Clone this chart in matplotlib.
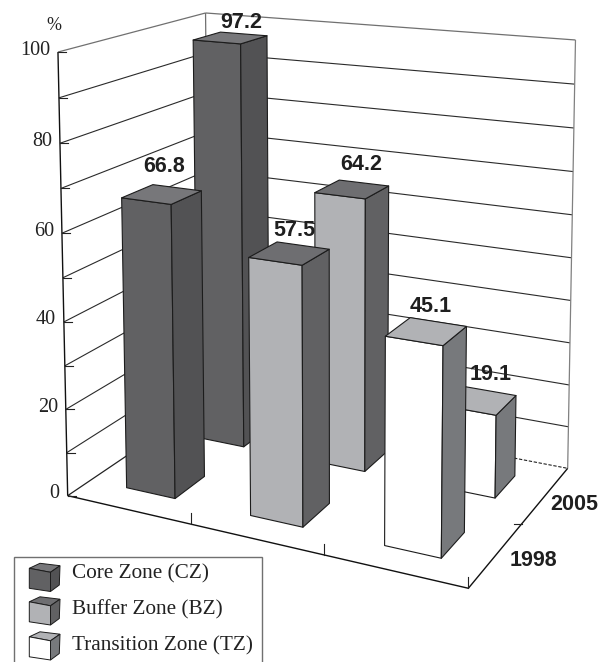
import numpy as np
import matplotlib
matplotlib.use("Agg")
import matplotlib.pyplot as plt
from matplotlib.patches import Polygon, Rectangle

# ---- data ----
zones = ["Core Zone (CZ)", "Buffer Zone (BZ)", "Transition Zone (TZ)"]
years = ["1998", "2005"]
values_1998 = [66.8, 57.5, 45.1]
values_2005 = [97.2, 64.2, 19.1]
y_ticks = [0, 20, 40, 60, 80, 100]
grid_levels = [10, 20, 30, 40, 50, 60, 70, 80, 90]

# ---- styles ----
front_cols = ["#616163", "#b1b2b5", "#ffffff"]
side_cols = ["#525254", "#616163", "#77797c"]
top_cols = ["#77777a", "#6e6e71", "#b1b2b5"]
BAR_W, BAR_D = 0.40, 0.41
SERIF = "Liberation Serif"
SANS = "Liberation Sans"

# ---- camera fitted on the chart box corners (x, depth, z) -> pixels ----
world = [(0, 0, 0), (1, 0, 0), (1, 1, 0), (0, 0, 1), (0, 1, 1), (1, 1, 1)]
image = [(67.7, 495.7), (468.3, 588.3), (567.7, 468.3), (58, 52), (205.5, 13), (575.5, 40)]
rows = []
for (X, Y, Z), (u, v) in zip(world, image):
    rows.append([X, Y, Z, 1, 0, 0, 0, 0, -u*X, -u*Y, -u*Z, -u])
    rows.append([0, 0, 0, 0, X, Y, Z, 1, -v*X, -v*Y, -v*Z, -v])
P = np.linalg.svd(np.array(rows, float))[2][-1].reshape(3, 4)


def proj(x, y, z):
    h = P @ np.array([x, y, z, 1.0])
    return h[0] / h[2], h[1] / h[2]


fig = plt.figure(figsize=(6.06, 6.62), dpi=100)
ax = fig.add_axes([0, 0, 1, 1])
ax.set_xlim(0, 606)
ax.set_ylim(662, 0)
ax.axis("off")


def seg(a, b, **kw):
    p, q = proj(*a), proj(*b)
    ax.plot([p[0], q[0]], [p[1], q[1]], solid_capstyle="butt", **kw)


# walls
for lv in grid_levels:
    z = lv / 100
    seg((0, 0, z), (0, 1, z), color="#2a2a2a", lw=0.8, zorder=1)
    seg((0, 1, z), (1, 1, z), color="#2a2a2a", lw=0.8, zorder=1)
seg((0, 0, 1), (0, 1, 1), color="#707070", lw=0.9, zorder=1)
seg((0, 1, 1), (1, 1, 1), color="#707070", lw=0.9, zorder=1)
seg((0, 1, 0), (0, 1, 1), color="#707070", lw=0.9, zorder=1)
seg((1, 1, 0), (1, 1, 1), color="#808080", lw=0.9, zorder=1)
seg((0, 0, 0), (0, 1, 0), color="#222222", lw=0.9, zorder=1)
p, q = proj(0, 1, 0), proj(1, 1, 0)
ax.plot([p[0], q[0]], [p[1], q[1]], color="#222222", lw=0.8, ls=(0, (3, 1.5)), zorder=1)

# axes
seg((0, 0, 0), (0, 0, 1), color="#111111", lw=1.0, zorder=2)
seg((0, 0, 0), (1, 0, 0), color="#111111", lw=1.0, zorder=2)
seg((1, 0, 0), (1, 1, 0), color="#111111", lw=1.0, zorder=2)
for lv in grid_levels + [0, 100]:
    px, py = proj(0, 0, lv / 100)
    ax.plot([px, px + 8], [py, py], color="#222222", lw=0.8, zorder=2)
for i in range(1, 4):
    px, py = proj(i / 3, 0, 0)
    ax.plot([px, px], [py, py - 11], color="#222222", lw=0.8, zorder=2)
px, py = proj(1, 0.5, 0)
ax.plot([px, px - 8], [py, py], color="#222222", lw=0.8, zorder=2)

# tick labels
for t in y_ticks:
    px, py = proj(0, 0, t / 100)
    ax.text(px - 8, py - 2, str(t), family=SERIF, fontsize=14.5, ha="right", va="center",
            color="#222222", zorder=3)
ax.text(54, 26, "%", family=SERIF, fontsize=13, ha="center", va="center", color="#222222")


def bar(cat, ser, val, zo):
    x0 = (cat + (1 - BAR_W) / 2) / 3
    x1 = (cat + (1 + BAR_W) / 2) / 3
    y0 = (ser + (1 - BAR_D) / 2) / 2
    y1 = (ser + (1 + BAR_D) / 2) / 2
    z = val / 100
    kw = dict(edgecolor="#1c1c1c", lw=0.8, closed=True, joinstyle="round", zorder=zo)
    ax.add_patch(Polygon([proj(x0, y0, 0), proj(x1, y0, 0), proj(x1, y0, z), proj(x0, y0, z)],
                         facecolor=front_cols[cat], **kw))
    ax.add_patch(Polygon([proj(x1, y0, 0), proj(x1, y1, 0), proj(x1, y1, z), proj(x1, y0, z)],
                         facecolor=side_cols[cat], **kw))
    ax.add_patch(Polygon([proj(x0, y0, z), proj(x1, y0, z), proj(x1, y1, z), proj(x0, y1, z)],
                         facecolor=top_cols[cat], **kw))


zo = 5
for ser, vals in [(1, values_2005), (0, values_1998)]:
    for cat, v in enumerate(vals):
        bar(cat, ser, v, zo)
        zo += 1

# value labels
label_xy_2005 = [(241, 23), (361, 165), (491, 374)]
label_xy_1998 = [(164, 167), (294, 231), (431, 306)]
for vals, xy in [(values_2005, label_xy_2005), (values_1998, label_xy_1998)]:
    for v, (lx, ly) in zip(vals, xy):
        ax.text(lx, ly, f"{v:.1f}", family=SANS, weight="bold", fontsize=15.5, ha="center",
                va="center", color="#1f1f1f", zorder=30)

# category (year) labels
for yr, (lx, ly) in zip(years, [(533, 561), (574, 504)]):
    ax.text(lx, ly, yr, family=SANS, weight="bold", fontsize=15.5, ha="center", va="center",
            color="#1f1f1f", zorder=30)

# legend
ax.add_patch(Rectangle((13.5, 557), 248.5, 120, facecolor="white", edgecolor="#707070", lw=1.0,
                       zorder=40))
front_key = np.array([(29.3, 568.3), (50.5, 572.3), (50.5, 591.5), (29.3, 588.3)])
top_key = np.array([(29.3, 568.3), (40, 563.3), (60, 565.7), (50.5, 572.3)])
side_key = np.array([(50.5, 572.3), (60, 565.7), (59.3, 585), (50.5, 591.5)])
key_text_y = [574, 610, 646]
key_offset = [0, 33.5, 68.5]
for i, name in enumerate(zones):
    off = np.array([0, key_offset[i]])
    kw = dict(edgecolor="#1c1c1c", lw=0.7, closed=True, zorder=41)
    ax.add_patch(Polygon(top_key + off, facecolor=top_cols[i], **kw))
    ax.add_patch(Polygon(side_key + off, facecolor=side_cols[i], **kw))
    ax.add_patch(Polygon(front_key + off, facecolor=front_cols[i], **kw))
    ax.text(72, key_text_y[i], name, family=SERIF, fontsize=15.3, ha="left", va="center",
            color="#222222", zorder=42)

fig.savefig("out.png", dpi=100)
